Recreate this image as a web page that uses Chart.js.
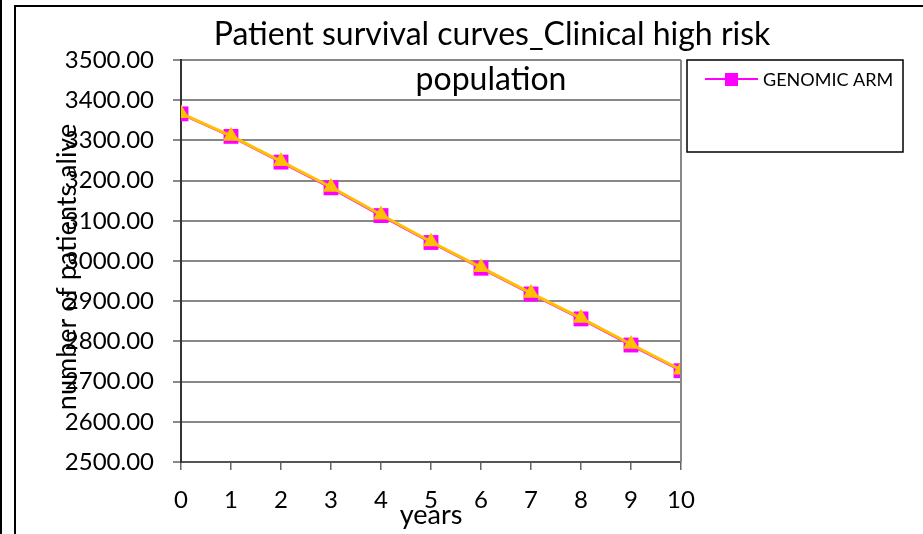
<!DOCTYPE html>
<html>
<head>
<meta charset="utf-8">
<script src="https://cdn.jsdelivr.net/npm/chart.js@4.4.1/dist/chart.umd.min.js"></script>
<style>
  html, body { margin: 0; padding: 0; background: #fff; }
  #wrap { width: 923px; height: 534px; }
</style>
</head>
<body>
<div id="wrap"><canvas id="lineChart" width="923" height="534"></canvas></div>
<script>
var years = [0, 1, 2, 3, 4, 5, 6, 7, 8, 9, 10];
var genomicArm = [3366, 3310, 3246, 3182, 3113, 3046, 2982, 2918, 2856, 2791, 2727];
var clinicalArm = [3367, 3311, 3248, 3184, 3115, 3048, 2984, 2920, 2858, 2793, 2729];
var titleLines = ['Patient survival curves_Clinical high risk', 'population'];
var yTitle = 'number of patients alive';
var xTitle = 'years';
var FONT = 'Lato, "Open Sans", sans-serif';

function pts(vals) {
    return vals.map(function (v, i) { return { x: years[i], y: v }; });
}

var decor = {
    id: 'decor',
    beforeDraw: function (chart) {
        var c = chart.ctx;
        c.save();
        c.fillStyle = '#fff';
        c.fillRect(0, 0, chart.width, chart.height);
        // outer frame
        c.strokeStyle = '#000';
        c.lineWidth = 2;
        c.beginPath();
        c.moveTo(15, chart.height + 5);
        c.lineTo(15, 6);
        c.lineTo(chart.width + 5, 6);
        c.stroke();
        c.fillStyle = '#000';
        c.fillRect(0, 0, 2, chart.height);
        c.restore();
    },
    afterDatasetsDraw: function (chart) {
        var c = chart.ctx, a = chart.chartArea;
        c.save();
        // right border of plot
        c.strokeStyle = '#888';
        c.lineWidth = 2;
        c.beginPath();
        c.moveTo(a.right, a.top);
        c.lineTo(a.right, a.bottom);
        c.stroke();
        // title
        c.fillStyle = '#000';
        c.textAlign = 'center';
        c.textBaseline = 'middle';
        c.font = '32px ' + FONT;
        c.fillText(titleLines[0], 492, 35);
        c.fillText(titleLines[1], 491, 80);
        // x title
        c.font = '27px ' + FONT;
        c.fillText(xTitle, (a.left + a.right) / 2, 515);
        // y title
        c.save();
        c.translate(67, 267);
        c.rotate(-Math.PI / 2);
        c.fillText(yTitle, 0, 0);
        c.restore();
        // legend box
        var ds = chart.data.datasets[0];
        c.fillStyle = '#fff';
        c.fillRect(687, 60, 216, 92);
        c.strokeStyle = '#000';
        c.lineWidth = 1.5;
        c.strokeRect(687, 60, 216, 92);
        c.strokeStyle = ds.borderColor;
        c.lineWidth = 2;
        c.beginPath();
        c.moveTo(705, 79);
        c.lineTo(758, 79);
        c.stroke();
        c.fillStyle = ds.pointBackgroundColor;
        c.fillRect(725, 73, 13, 13);
        c.fillStyle = '#000';
        c.textAlign = 'left';
        c.font = '18px ' + FONT;
        c.fillText(ds.label, 763, 80);
        c.restore();
    }
};

var ctx = document.getElementById('lineChart').getContext('2d');
var myChart = new Chart(ctx, {
    type: 'line',
    data: {
        datasets: [{
            label: 'GENOMIC ARM',
            data: pts(genomicArm),
            borderColor: '#ff00ff',
            backgroundColor: '#ff00ff',
            pointBackgroundColor: '#ff00ff',
            pointBorderColor: '#ff00ff',
            pointStyle: 'rect',
            pointRadius: 10.5,
            pointBorderWidth: 0,
            borderWidth: 2.5,
            order: 2,
            tension: 0
        }, {
            label: 'CLINICAL ARM',
            data: pts(clinicalArm),
            borderColor: '#ffc000',
            backgroundColor: '#ffc000',
            pointBackgroundColor: '#ffc000',
            pointBorderColor: '#ffc000',
            pointStyle: 'triangle',
            pointRadius: 9.3,
            pointBorderWidth: 0,
            borderWidth: 3,
            order: 1,
            tension: 0
        }]
    },
    options: {
        responsive: false,
        animation: false,
        layout: { padding: { top: 60, right: 242, bottom: 0, left: 0 } },
        plugins: { legend: { display: false }, title: { display: false }, tooltip: { enabled: false } },
        scales: {
            x: {
                type: 'linear',
                min: 0,
                max: 10,
                afterFit: function (s) { s.height = 72; },
                ticks: { stepSize: 1, color: '#000', font: { family: FONT, size: 24 }, padding: 16 },
                grid: { drawOnChartArea: false, drawTicks: true, tickLength: 8, color: '#666', lineWidth: 1.5 },
                border: { display: true, color: '#555', width: 2 }
            },
            y: {
                min: 2500,
                max: 3500,
                afterFit: function (s) { s.width = 181; },
                ticks: {
                    stepSize: 100,
                    color: '#000',
                    font: { family: FONT, size: 24 },
                    padding: 19,
                    callback: function (v) { return v.toFixed(2); }
                },
                grid: { color: '#888', lineWidth: 2, tickLength: 8 },
                border: { display: true, color: '#333', width: 2 }
            }
        }
    },
    plugins: [decor]
});
</script>
</body>
</html>
